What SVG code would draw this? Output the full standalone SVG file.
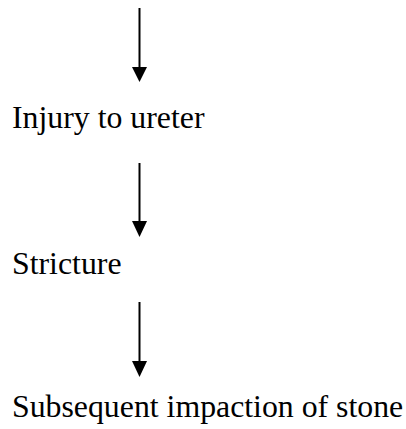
<svg xmlns="http://www.w3.org/2000/svg" width="406" height="429" viewBox="0 0 406 429">
<style>
text{font-family:"Liberation Serif","Times New Roman",serif;font-size:31.8px;fill:#000}
.ln{stroke:#000;stroke-width:2;fill:none}
.hd{fill:#000}
</style>
<rect width="406" height="429" fill="#fff"/>
<g id="connectors">
<line class="ln" x1="139.5" y1="8" x2="139.5" y2="70"/>
<polygon class="hd" points="132,67 147,67 139.5,82"/>
<line class="ln" x1="139.5" y1="163" x2="139.5" y2="224"/>
<polygon class="hd" points="132,221 147,221 139.5,237"/>
<line class="ln" x1="139.5" y1="302" x2="139.5" y2="364"/>
<polygon class="hd" points="132,361 147,361 139.5,377"/>
</g>
<g id="n1"><text x="12" y="128">Injury to ureter</text></g>
<g id="n2"><text x="12" y="274">Stricture</text></g>
<g id="n3"><text x="12" y="417">Subsequent impaction of stone</text></g>
</svg>
